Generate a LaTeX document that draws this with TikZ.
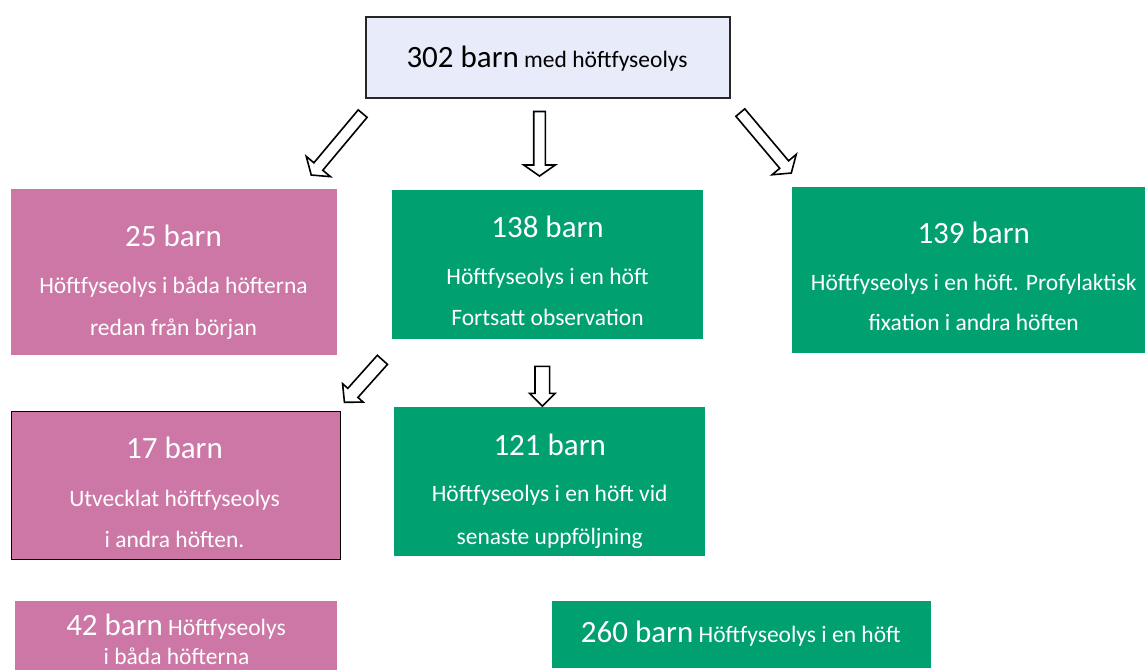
\documentclass[tikz,border=0pt]{standalone}
\usepackage{fontspec}
\setmainfont{Carlito}
\usetikzlibrary{calc,shapes.arrows}

\definecolor{lilac}{RGB}{232,235,249}
\definecolor{rosa}{RGB}{204,119,166}
\definecolor{gron}{RGB}{0,160,112}

\tikzset{
  rosabox/.style={fill=rosa, inner sep=0pt, outer sep=0pt},
  gronbox/.style={fill=gron, inner sep=0pt, outer sep=0pt},
  bigtext/.style={font=\fontsize{31}{37}\selectfont, text=white, anchor=base, inner sep=0pt},
  smalltext/.style={font=\fontsize{23.5}{28}\selectfont, text=white, anchor=base, inner sep=0pt},
  fatarrow/.style={single arrow, draw=black, fill=white, line width=1.6pt,
    inner xsep=0pt, inner ysep=5pt, single arrow head extend=10pt,
    single arrow tip angle=110, single arrow head indent=0pt, outer sep=0pt},
  stubarrow/.style={inner ysep=6.5pt, single arrow head extend=5.5pt, single arrow tip angle=90}
}

% block arrow between two named coordinates
\newcommand\blockpil[4][]{%
  \path let \p1=(#3), \p2=(#4), \n1={atan2(\y2-\y1,\x2-\x1)}, \n2={veclen(\x2-\x1,\y2-\y1)}
    in node[fatarrow, #1, minimum height=\n2, rotate=\n1] (#2) at ($(#3)!0.5!(#4)$) {};}

\newcommand\antal[1]{{\fontsize{31}{37}\selectfont #1}}

\begin{document}
\begin{tikzpicture}[x=1pt,y=-1pt]
\useasboundingbox (0,0) rectangle (1145,670);

% boxes
\node[fill=lilac, draw=black!85, line width=1.5pt, minimum width=364, minimum height=81] (btop) at (548,57.5) {};
\node[rosabox, minimum width=326, minimum height=166] (b25) at (174,272) {};
\node[gronbox, minimum width=311, minimum height=149] (b138) at (547.5,264.5) {};
\node[gronbox, minimum width=353, minimum height=166] (b139) at (968.5,270) {};
\node[rosabox, draw=black, line width=0.8pt, minimum width=328.5, minimum height=148] (b17) at (175.75,485.5) {};
\node[gronbox, minimum width=311, minimum height=149] (b121) at (549.5,481.3) {};
\node[rosabox, minimum width=322, minimum height=69] (b42) at (176,635.5) {};
\node[gronbox, minimum width=379, minimum height=67] (b260) at (741.5,634.5) {};

% texts
\node[smalltext, text=black] (ttop) at (547,67.3) {\antal{302 barn} med höftfyseolys};
\node[bigtext] (t25a) at (173.5,246.7) {25 barn};
\node[smalltext] (t25b) at (173.5,293.3) {Höftfyseolys i båda höfterna};
\node[smalltext] (t25c) at (173.5,335.7) {redan från början};
\node[bigtext] (t138a) at (547.5,237.3) {138 barn};
\node[smalltext] (t138b) at (547.5,284) {Höftfyseolys i en höft};
\node[smalltext] (t138c) at (547.5,325.7) {Fortsatt observation};
\node[bigtext] (t139a) at (973.7,243.3) {139 barn};
\node[smalltext] (t139b) at (973.7,290) {Höftfyseolys i en höft. Profylaktisk};
\node[smalltext] (t139c) at (973.7,330.7) {fixation i andra höften};
\node[bigtext] (t17a) at (174.5,458.3) {17 barn};
\node[smalltext] (t17b) at (174.5,506.7) {Utvecklat höftfyseolys};
\node[smalltext] (t17c) at (174.5,547.7) {i andra höften.};
\node[bigtext] (t121a) at (549.7,455) {121 barn};
\node[smalltext] (t121b) at (549.7,501.7) {Höftfyseolys i en höft vid};
\node[smalltext] (t121c) at (549.7,544) {senaste uppföljning};
\node[smalltext] (t42a) at (176,635.7) {\antal{42 barn} Höftfyseolys};
\node[smalltext] (t42b) at (176.5,664) {i båda höfterna};
\node[smalltext] (t260) at (740.8,642.3) {\antal{260 barn} Höftfyseolys i en höft};

% arrows
\coordinate (a1s) at (364,112);
\coordinate (a1e) at (312.5,173.5);
\coordinate (a2s) at (539.5,109.5);
\coordinate (a2e) at (539.5,174);
\coordinate (a3s) at (739,111);
\coordinate (a3e) at (790,171.5);
\coordinate (a4s) at (384.5,357.5);
\coordinate (a4e) at (346.5,400);
\coordinate (a5s) at (542.3,362.7);
\coordinate (a5e) at (542.3,402.5);
\blockpil{p1}{a1s}{a1e}
\blockpil{p2}{a2s}{a2e}
\blockpil{p3}{a3s}{a3e}
\blockpil[inner ysep=6pt, single arrow head extend=7pt, single arrow tip angle=95]{p4}{a4s}{a4e}
\blockpil[stubarrow]{p5}{a5s}{a5e}
\end{tikzpicture}
\end{document}
